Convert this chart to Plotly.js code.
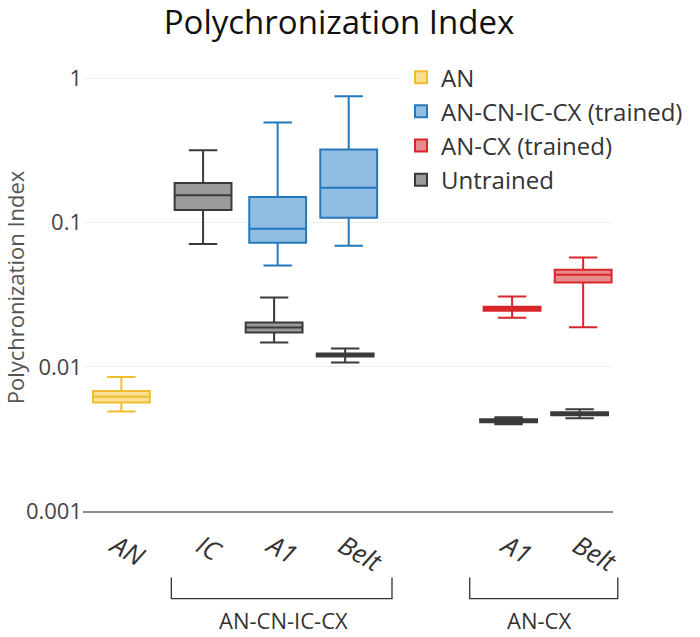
<!DOCTYPE html>
<html>
<head>
<meta charset="utf-8">
<script src="https://cdn.plot.ly/plotly-3.0.1.min.js"></script>
<style>html,body{margin:0;padding:0;background:#fff;}#chart{width:700px;height:637px;}</style>
</head>
<body>
<div id="chart"></div>
<script>
// ---- Data ----
const categories = ["AN", "IC", "A1", "Belt", "A1", "Belt"];
const groupLabels = ["AN-CN-IC-CX", "AN-CX"];
const seriesNames = ["AN", "AN-CN-IC-CX (trained)", "AN-CX (trained)", "Untrained"];

// AN (category 0)
const anIdx = [0];
const anLower = [0.0049];
const anQ1 = [0.00565];
const anMedian = [0.0062];
const anQ3 = [0.0068];
const anUpper = [0.0085];

// AN-CN-IC-CX trained (A1, Belt)
const cicxIdx = [2, 3];
const cicxLower = [0.0505, 0.069];
const cicxQ1 = [0.0724, 0.108];
const cicxMedian = [0.0905, 0.1745];
const cicxQ3 = [0.1506, 0.321];
const cicxUpper = [0.494, 0.751];

// AN-CX trained (A1, Belt)
const cxIdx = [4, 5];
const cxLower = [0.0219, 0.0188];
const cxQ1 = [0.0245, 0.0385];
const cxMedian = [0.0253, 0.0435];
const cxQ3 = [0.0261, 0.0471];
const cxUpper = [0.0307, 0.0573];

// Untrained (IC, A1, Belt, A1-CX, Belt-CX)
const untIdx = [1, 2, 3, 4, 5];
const untLower = [0.0712, 0.01475, 0.0107, 0.0040, 0.0044];
const untQ1 = [0.1224, 0.0173, 0.0118, 0.00413, 0.00462];
const untMedian = [0.155, 0.0187, 0.0121, 0.00423, 0.00473];
const untQ3 = [0.188, 0.0203, 0.01238, 0.00433, 0.00484];
const untUpper = [0.318, 0.0302, 0.0134, 0.00447, 0.00508];

const yTickVals = [0.001, 0.01, 0.1, 1];
const yTickText = ["0.001", "0.01", "0.1", "1"];

// ---- Layout constants ----
const catPos = [0, 1.2, 2.2, 3.2, 5.5, 6.5];
const untShift = -0.05;
const FONT = "Open Sans, Noto Sans, sans-serif";

function boxTrace(name, idx, lo, q1, med, q3, hi, line, fill, shift) {
  return {
    type: "box",
    name: name,
    legendgroup: name,
    x: idx.map(i => catPos[i] + (shift || 0)),
    lowerfence: lo, q1: q1, median: med, q3: q3, upperfence: hi,
    width: 0.8,
    whiskerwidth: 0.5,
    line: {color: line, width: 2},
    fillcolor: fill,
    boxpoints: false,
    hoverinfo: "y"
  };
}

const traces = [
  boxTrace(seriesNames[0], anIdx, anLower, anQ1, anMedian, anQ3, anUpper, "#f0bd2e", "rgba(246,212,110,0.75)"),
  boxTrace(seriesNames[1], cicxIdx, cicxLower, cicxQ1, cicxMedian, cicxQ3, cicxUpper, "#2479bd", "rgba(116,173,219,0.8)"),
  boxTrace(seriesNames[2], cxIdx, cxLower, cxQ1, cxMedian, cxQ3, cxUpper, "#d8262b", "rgba(226,110,112,0.8)"),
  boxTrace(seriesNames[3], untIdx, untLower, untQ1, untMedian, untQ3, untUpper, "#3a3a3a", "#9a9a9a", untShift)
];

const brY0 = -0.149, brY1 = -0.196;
function bracket(x0, x1) {
  return {
    type: "path", xref: "paper", yref: "paper",
    path: `M ${x0},${brY0} L ${x0},${brY1} L ${x1},${brY1} L ${x1},${brY0}`,
    line: {color: "#333", width: 1.3}
  };
}

const layout = {
  width: 700, height: 637,
  margin: {l: 83, r: 77, t: 63.5, b: 125.5},
  paper_bgcolor: "#fff", plot_bgcolor: "#fff",
  font: {family: FONT, color: "#444"},
  title: {text: "Polychronization Index", x: 0.483, xanchor: "center", xref: "paper",
          yref: "container", y: 0.965, yanchor: "middle",
          font: {family: FONT, size: 33, color: "#111"}},
  boxmode: "overlay",
  showlegend: true,
  legend: {x: 0.6, xanchor: "left", y: 1.02, yanchor: "top", bgcolor: "rgba(255,255,255,1)",
           font: {family: FONT, size: 24, color: "#333"}, traceorder: "normal", tracegroupgap: 5},
  xaxis: {
    type: "linear", range: [-0.54, 6.92],
    tickvals: catPos, ticktext: categories.map(c => "<i>" + c + "</i>"),
    tickangle: 30, showgrid: false, zeroline: false,
    showline: true, linecolor: "#8a8a8a", linewidth: 2,
    ticks: "", ticklabelstandoff: 8, ticklabelshift: -6,
    tickfont: {family: FONT, size: 26, color: "#333"}
  },
  yaxis: {
    type: "log", range: [-3, 0.1],
    tickvals: yTickVals, ticktext: yTickText,
    showgrid: true, gridcolor: "#eeeeee", gridwidth: 1, zeroline: false, showline: false,
    ticks: "", tickfont: {family: FONT, size: 22, color: "#444"},
    title: {text: "Polychronization Index", font: {family: FONT, size: 22, color: "#555"}, standoff: 8}
  },
  shapes: [
    bracket(0.1667, 0.583),
    bracket(0.7296, 1.009)
  ],
  annotations: [
    {text: groupLabels[0], xref: "paper", yref: "paper", x: 0.378, y: -0.243, xanchor: "center", yanchor: "middle",
     showarrow: false, font: {family: FONT, size: 22, color: "#333"}},
    {text: groupLabels[1], xref: "paper", yref: "paper", x: 0.861, y: -0.243, xanchor: "center", yanchor: "middle",
     showarrow: false, font: {family: FONT, size: 22, color: "#333"}}
  ]
};

Plotly.newPlot("chart", traces, layout, {displayModeBar: false, responsive: false});
</script>
</body>
</html>
